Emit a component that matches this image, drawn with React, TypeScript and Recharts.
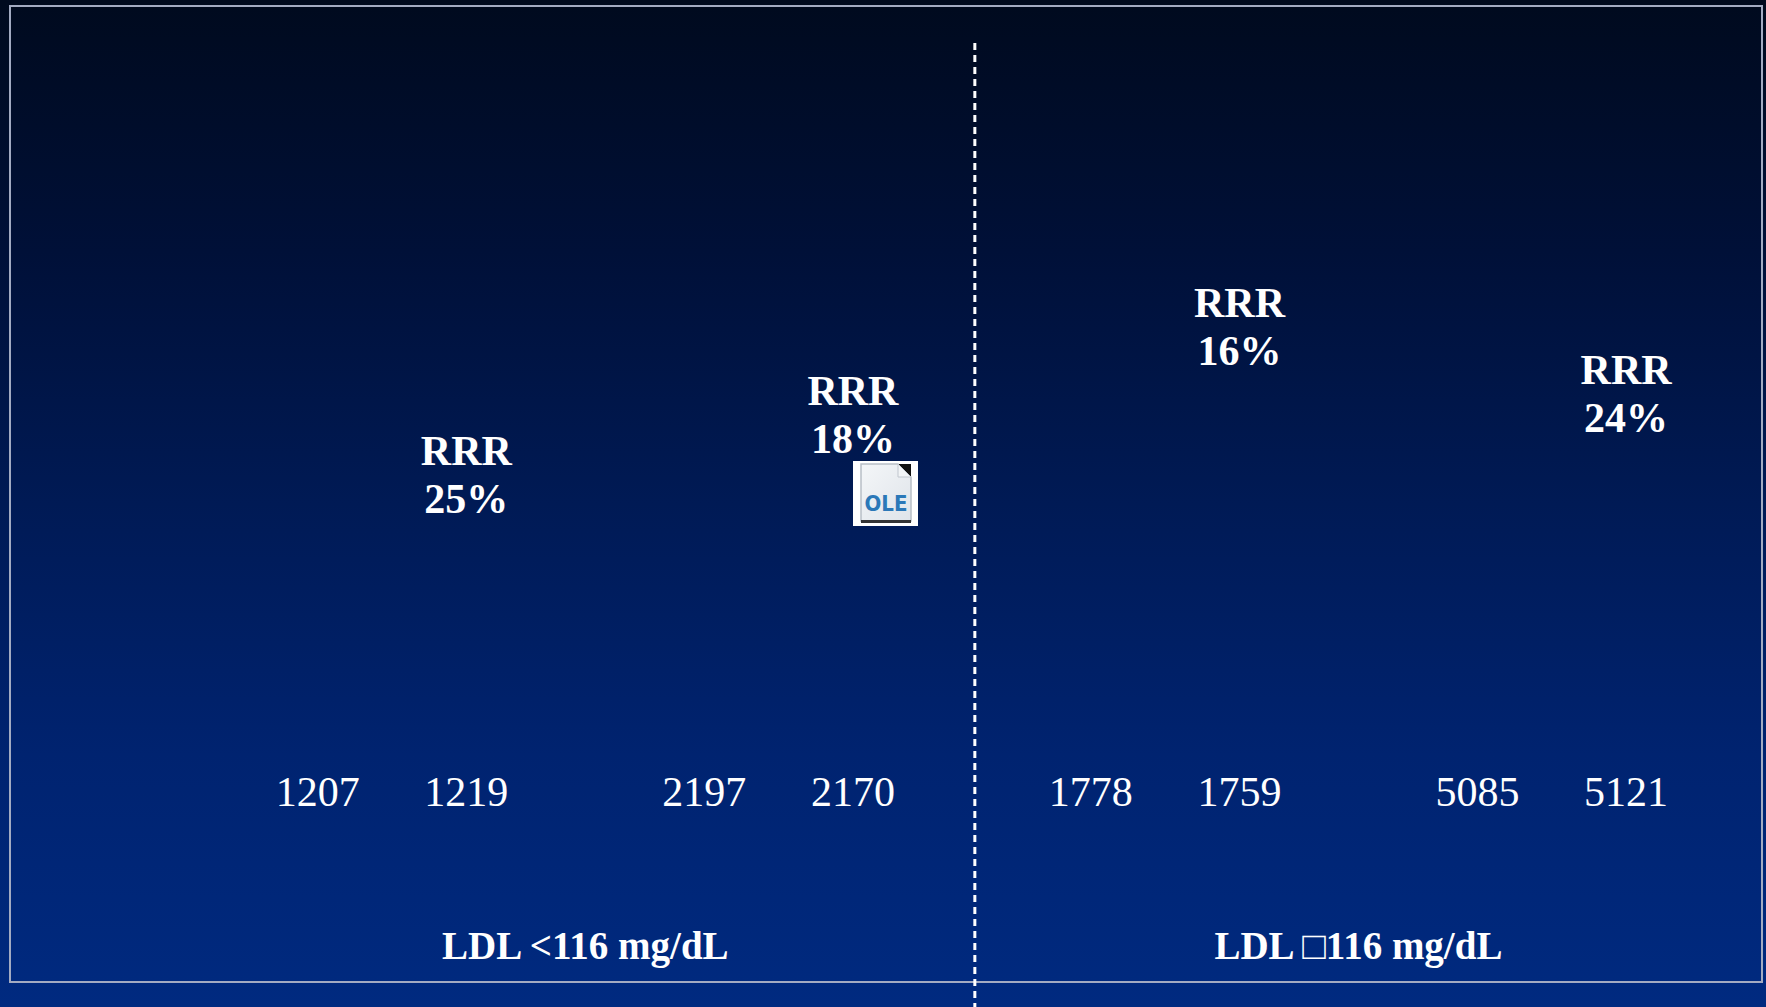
import React from 'react';
import { ComposedChart, Scatter, XAxis, YAxis, ReferenceLine, LabelList } from 'recharts';

// Patients per arm (placebo / treatment pairs), in picture order
const counts = [1207, 1219, 2197, 2170, 1778, 1759, 5085, 5121];
// Group (subset) labels
const groupLabels = ['LDL <116 mg/dL', 'LDL \u25A1116 mg/dL'];
// Relative risk reduction shown above each treatment bar
const rrrLabels = ['25%', '18%', '16%', '24%'];
// Height of the (missing) treatment bars the RRR labels sit on, event rate %
const treatmentRates = [10.0, 12.5, 16.2, 13.4];

const W = 1766;
const H = 1007;
const PAIR_GAP = 0.6;

// x slot for each bar: bars in a pair are 1 apart, pairs separated by an extra gap
const rows = counts.map((n, i) => ({ pos: i + Math.floor(i / 2) * PAIR_GAP, n }));
const treatmentRows = treatmentRates.map((rate, k) => ({
  pos: rows[k * 2 + 1].pos,
  rate,
  rrr: rrrLabels[k],
}));
const groupCenters = [0, 1].map((g) => (rows[g * 4].pos + rows[g * 4 + 3].pos) / 2);
const dividerX = (rows[3].pos + rows[4].pos) / 2 + 0.02;

const serif = '"Liberation Serif", "Times New Roman", Times, serif';

const CountTick = (props: any) => {
  const { x, y, payload } = props;
  const row = rows.find((r) => Math.abs(r.pos - payload.value) < 1e-6);
  return (
    <text x={x} y={y} dy={46} textAnchor="middle" fill="#ffffff" fontFamily={serif} fontSize={42}>
      {row ? row.n : ''}
    </text>
  );
};

const GroupTick = (props: any) => {
  const { x, y, payload } = props;
  const idx = groupCenters.findIndex((c) => Math.abs(c - payload.value) < 1e-6);
  return (
    <text x={x} y={y} dy={79} textAnchor="middle" fill="#ffffff" fontFamily={serif} fontSize={39} fontWeight="bold">
      {idx >= 0 ? groupLabels[idx] : ''}
    </text>
  );
};

const RrrLabel = (props: any) => {
  const { x, y, width, height, value } = props;
  if (value == null) return null;
  const cx = x + (width || 0) / 2;
  const cy = y + (height || 0) / 2;
  return (
    <g>
      <text x={cx} y={cy - 8 - 48} textAnchor="middle" fill="#ffffff" fontFamily={serif} fontSize={42} fontWeight="bold">
        RRR
      </text>
      <text x={cx} y={cy - 8} textAnchor="middle" fill="#ffffff" fontFamily={serif} fontSize={42} fontWeight="bold">
        {value}
      </text>
    </g>
  );
};

const NoShape = () => <g />;

const OleIcon = () => (
  <div style={{ position: 'absolute', left: 853, top: 461, width: 65, height: 65, background: '#ffffff' }}>
    <svg width={65} height={65}>
      <defs>
        <linearGradient id="olebg" x1="0" y1="0" x2="1" y2="1">
          <stop offset="0%" stopColor="#f4f6f8" />
          <stop offset="100%" stopColor="#dfe4ea" />
        </linearGradient>
      </defs>
      <path d="M8 3 H45 L58 16 V60 H8 Z" fill="url(#olebg)" stroke="#b8bec6" strokeWidth={1.5} />
      <path d="M45 3 H58 V16 Z" fill="#111111" />
      <path d="M45 3 V16 H58 Z" fill="#f2f4f6" stroke="#c0c6ce" strokeWidth={1} />
      <text x={33} y={50} textAnchor="middle" fill="#2b78b8" fontFamily='"DejaVu Sans Condensed", "Liberation Sans Narrow", "Liberation Sans", sans-serif' fontSize={22} fontWeight="bold">
        OLE
      </text>
      <rect x={8} y={59} width={50} height={3} fill="#333333" />
    </svg>
  </div>
);

export default function App() {
  return (
    <div
      style={{
        position: 'absolute',
        left: 0,
        top: 0,
        width: W,
        height: H,
        overflow: 'hidden',
        background:
          'linear-gradient(to bottom, #000a1e 0%, #001038 25%, #001a55 50%, #002370 75%, #002a80 100%)',
      }}
    >
      <div
        style={{
          position: 'absolute',
          left: 9,
          top: 5,
          width: 1750,
          height: 974,
          border: '2px solid #a3abc2',
        }}
      />
      <div style={{ position: 'absolute', left: 0, top: 0 }}>
        <ComposedChart
          width={W}
          height={H}
          data={rows}
          margin={{ top: 43, right: 21, bottom: 0, left: 169 }}
        >
          <XAxis
            xAxisId="b"
            dataKey="pos"
            type="number"
            domain={[-1, 9.6]}
            ticks={groupCenters}
            tick={<GroupTick />}
            axisLine={false}
            tickLine={false}
            tickSize={0}
            tickMargin={0}
            height={127}
            interval={0}
            allowDataOverflow
          />
          <XAxis
            xAxisId="a"
            dataKey="pos"
            type="number"
            domain={[-1, 9.6]}
            ticks={rows.map((r) => r.pos)}
            tick={<CountTick />}
            axisLine={false}
            tickLine={false}
            tickSize={0}
            tickMargin={0}
            height={120}
            interval={0}
            allowDataOverflow
          />
          <YAxis hide domain={[0, 30]} />
          <Scatter
            xAxisId="a"
            data={treatmentRows}
            dataKey="rate"
            shape={<NoShape />}
            isAnimationActive={false}
          >
            <LabelList dataKey="rrr" content={<RrrLabel />} />
          </Scatter>
          <ReferenceLine
            xAxisId="a"
            ifOverflow="visible"
            segment={[
              { x: dividerX, y: 30 },
              { x: dividerX, y: -10.5 },
            ]}
            stroke="#ffffff"
            strokeWidth={3}
            strokeDasharray="7 5"
          />
        </ComposedChart>
      </div>
      <OleIcon />
    </div>
  );
}
